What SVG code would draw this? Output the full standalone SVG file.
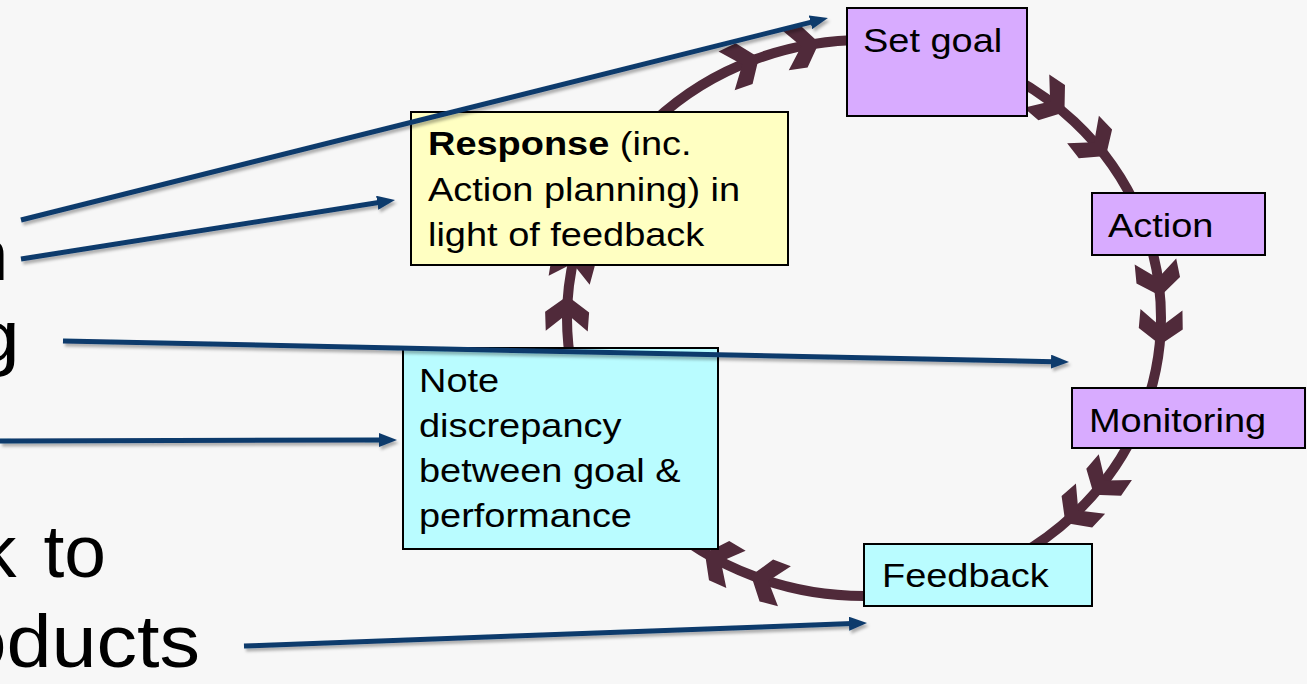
<svg xmlns="http://www.w3.org/2000/svg" xmlns:xlink="http://www.w3.org/1999/xlink" width="1307" height="684" viewBox="0 0 1307 684">
<style>
.t{font-family:"Liberation Sans",Arial,sans-serif;font-size:33px;fill:#000}
.big{font-family:"Liberation Sans",Arial,sans-serif;font-size:75px;fill:#000}
.box{stroke:#000;stroke-width:2}
.purple{fill:#d8abff}
.cyan{fill:#b9fcff}
.yellow{fill:#ffffc2}
.cyc{fill:none;stroke:#502a3a;stroke-width:10}
.chev{fill:#502a3a}
.conn{fill:none;stroke:#0d3a6c;stroke-width:5}
</style>
<defs>
<path id="chev" d="M17,0 L1,-22 L-18,-21 L-1,0 L-18,21 L1,22 Z"/>
<marker id="ah" markerUnits="userSpaceOnUse" markerWidth="18" markerHeight="14" refX="3" refY="7" orient="auto">
<path d="M0,0 L18,7 L0,14 Z" fill="#0d3a6c"/>
</marker>
<filter id="sh" x="-5%" y="-20%" width="110%" height="140%">
<feDropShadow dx="2" dy="3" stdDeviation="1.5" flood-color="#000" flood-opacity="0.3"/>
</filter>
</defs>
<rect width="1307" height="684" fill="#f7f7f7"/>

<g id="left-text">
<text class="big" text-anchor="end" transform="translate(9,280) scale(1.12,1)">n</text>
<text class="big" text-anchor="end" transform="translate(20,362) scale(1.12,1)">g</text>
<text class="big" text-anchor="end" word-spacing="6" transform="translate(106,577)">k to</text>
<text class="big" text-anchor="end" transform="translate(200,667) scale(1.08,1)">oducts</text>
</g>

<g id="cycle">
<ellipse class="cyc" cx="864" cy="318" rx="297" ry="278"/>
<g class="chev">
<use href="#chev" transform="translate(743.2,64) rotate(-22.6)"/>
<use href="#chev" transform="translate(802.3,46.1) rotate(-11.3)"/>
<use href="#chev" transform="translate(1050.9,102) rotate(37.2)"/>
<use href="#chev" transform="translate(1094.8,143.1) rotate(49.1)"/>
<use href="#chev" transform="translate(1158.1,279.3) rotate(81.5)"/>
<use href="#chev" transform="translate(1160.8,327.7) rotate(92.1)"/>
<use href="#chev" transform="translate(1104.3,481.4) rotate(127.8)"/>
<use href="#chev" transform="translate(1077.6,511.1) rotate(135.9)"/>
<use href="#chev" transform="translate(767.3,580.8) rotate(197.9)"/>
<use href="#chev" transform="translate(720,561.1) rotate(207.4)"/>
<use href="#chev" transform="translate(567.1,313.1) rotate(-88.9)"/>
<use href="#chev" transform="translate(573,262.6) rotate(-77.7)"/>
</g>
</g>

<g id="set-goal">
<rect class="box purple" x="847" y="8" width="180" height="108"/>
<text class="t" transform="translate(863,52) scale(1.15,1)">Set goal</text>
</g>
<g id="action">
<rect class="box purple" x="1092" y="193" width="173" height="62"/>
<text class="t" transform="translate(1108,237) scale(1.15,1)">Action</text>
</g>
<g id="monitoring">
<rect class="box purple" x="1072" y="388" width="233" height="60"/>
<text class="t" transform="translate(1089,432) scale(1.15,1)">Monitoring</text>
</g>
<g id="feedback">
<rect class="box cyan" x="864" y="544" width="228" height="62"/>
<text class="t" transform="translate(882,587) scale(1.15,1)">Feedback</text>
</g>
<g id="note">
<rect class="box cyan" x="403" y="348" width="315" height="201"/>
<text class="t" transform="translate(419,392) scale(1.15,1)">Note</text>
<text class="t" transform="translate(419,437) scale(1.15,1)">discrepancy</text>
<text class="t" transform="translate(419,482) scale(1.15,1)">between goal &amp;</text>
<text class="t" transform="translate(419,527) scale(1.15,1)">performance</text>
</g>
<g id="response">
<rect class="box yellow" x="411" y="112" width="377" height="153"/>
<text class="t" transform="translate(428,155) scale(1.15,1)"><tspan font-weight="bold">Response</tspan> (inc.</text>
<text class="t" transform="translate(428,201) scale(1.15,1)">Action planning) in</text>
<text class="t" transform="translate(428,246) scale(1.15,1)">light of feedback</text>
</g>

<g id="connectors" filter="url(#sh)">
<line class="conn" x1="21" y1="220" x2="813.4" y2="21.6" marker-end="url(#ah)"/>
<line class="conn" x1="21" y1="259" x2="380.2" y2="202.3" marker-end="url(#ah)"/>
<line class="conn" x1="63" y1="341" x2="1054" y2="361.7" marker-end="url(#ah)"/>
<line class="conn" x1="0" y1="441" x2="382" y2="440" marker-end="url(#ah)"/>
<line class="conn" x1="244" y1="646" x2="852" y2="623.6" marker-end="url(#ah)"/>
</g>
</svg>
